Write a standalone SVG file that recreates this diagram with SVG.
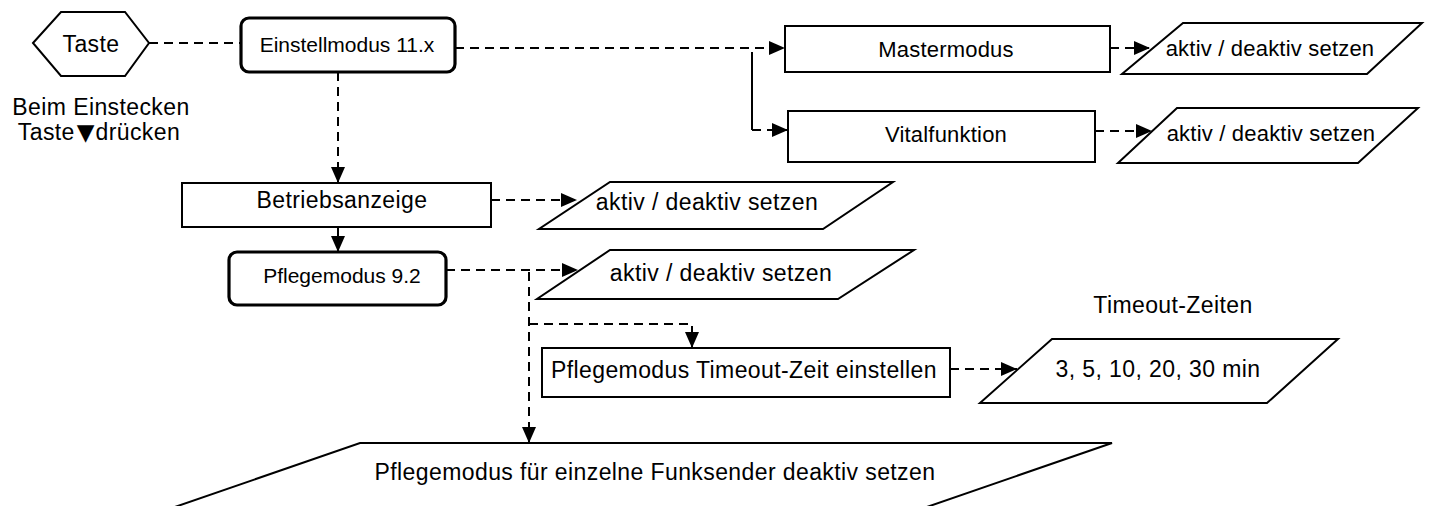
<svg xmlns="http://www.w3.org/2000/svg" width="1455" height="506" viewBox="0 0 1455 506">
  <defs>
    <marker id="arr" markerUnits="userSpaceOnUse" markerWidth="16" markerHeight="14" refX="16" refY="7" orient="auto">
      <path d="M0,0 L16,7 L0,14 z" fill="#000"/>
    </marker>
    <style>
      text { font-family: "Liberation Sans", Arial, sans-serif; fill: #000; text-anchor: middle; }
      .t23 { font-size: 23px; letter-spacing: 0.4px; }
      .t22 { font-size: 22px; letter-spacing: 0.2px; }
      .t21 { font-size: 21px; }
      .sym { font-family: "DejaVu Sans", sans-serif; font-size: 23px; letter-spacing: 0; }
      .box { fill: #fff; stroke: #000; stroke-width: 2; }
      .rbox { fill: #fff; stroke: #000; stroke-width: 3.2; }
      .dash { fill: none; stroke: #000; stroke-width: 2; stroke-dasharray: 9 6; }
      .solid { fill: none; stroke: #000; stroke-width: 2; }
    </style>
  </defs>

  <g id="connectors">
    <line class="dash" x1="149" y1="43" x2="241" y2="43"/>
    <line class="dash" x1="338" y1="72" x2="338" y2="183" marker-end="url(#arr)"/>
    <line class="dash" x1="455" y1="48" x2="785" y2="48" marker-end="url(#arr)"/>
    <polyline class="solid" points="752,52 752,130"/>
    <line class="dash" x1="752" y1="130" x2="788" y2="130" marker-end="url(#arr)"/>
    <line class="dash" x1="1110" y1="48" x2="1150" y2="48" marker-end="url(#arr)"/>
    <line class="dash" x1="1095" y1="131" x2="1152" y2="131" marker-end="url(#arr)"/>
    <line class="dash" x1="491" y1="200" x2="577" y2="200" marker-end="url(#arr)"/>
    <line class="solid" x1="338" y1="227" x2="338" y2="252" marker-end="url(#arr)"/>
    <line class="dash" x1="446" y1="270" x2="578" y2="270" marker-end="url(#arr)"/>
    <line class="dash" x1="529" y1="272" x2="529" y2="443" marker-end="url(#arr)"/>
    <polyline class="dash" points="529,324 692,324 692,348" marker-end="url(#arr)"/>
    <line class="dash" x1="950" y1="369" x2="1017" y2="369" marker-end="url(#arr)"/>
  </g>

  <g id="taste">
    <polygon class="box" points="33,43 61,12 125,12 149,43 125,76 61,76"/>
    <text class="t23" x="91" y="52">Taste</text>
  </g>

  <g id="hinweis">
    <text class="t23" x="101" y="115">Beim Einstecken</text>
    <text class="t23" x="99" y="140">Taste<tspan class="sym" dx="2">▼</tspan><tspan dx="1">drücken</tspan></text>
  </g>

  <g id="einstellmodus">
    <rect class="rbox" x="241" y="18" width="214" height="54" rx="8"/>
    <text class="t21" x="347" y="52">Einstellmodus 11.x</text>
  </g>

  <g id="mastermodus">
    <rect class="box" x="785" y="26" width="325" height="46"/>
    <text class="t22" x="946" y="57">Mastermodus</text>
  </g>

  <g id="master-aktiv">
    <polygon class="box" points="1183,23 1422,23 1367,74 1122,74"/>
    <text class="t22" x="1270" y="56">aktiv / deaktiv setzen</text>
  </g>

  <g id="vitalfunktion">
    <rect class="box" x="788" y="111" width="307" height="51"/>
    <text class="t22" x="946" y="142">Vitalfunktion</text>
  </g>

  <g id="vital-aktiv">
    <polygon class="box" points="1177,108 1418,108 1358,163 1118,163"/>
    <text class="t22" x="1271" y="141">aktiv / deaktiv setzen</text>
  </g>

  <g id="betriebsanzeige">
    <rect class="box" x="182" y="183" width="309" height="44"/>
    <text class="t23" x="342" y="208">Betriebsanzeige</text>
  </g>

  <g id="betrieb-aktiv">
    <polygon class="box" points="610,182 893,182 823,229 539,229"/>
    <text class="t23" x="707" y="210">aktiv / deaktiv setzen</text>
  </g>

  <g id="pflegemodus">
    <rect class="rbox" x="229" y="252" width="217" height="53" rx="8"/>
    <text class="t21" x="342" y="283">Pflegemodus 9.2</text>
  </g>

  <g id="pflege-aktiv">
    <polygon class="box" points="610,250 914,250 838,299 537,299"/>
    <text class="t23" x="721" y="281">aktiv / deaktiv setzen</text>
  </g>

  <g id="timeout-label">
    <text class="t23" x="1173" y="313">Timeout-Zeiten</text>
  </g>

  <g id="timeout-einstellen">
    <rect class="box" x="542" y="348" width="408" height="49"/>
    <text class="t23" x="744" y="378">Pflegemodus Timeout-Zeit einstellen</text>
  </g>

  <g id="timeout-werte">
    <polygon class="box" points="1052,339 1338,339 1267,403 980,403"/>
    <text class="t23" x="1158" y="377">3, 5, 10, 20, 30 min</text>
  </g>

  <g id="funksender">
    <polygon class="box" points="360,443 1112,443 921,509 169,509"/>
    <text class="t23" x="655" y="480">Pflegemodus für einzelne Funksender deaktiv setzen</text>
  </g>
</svg>
